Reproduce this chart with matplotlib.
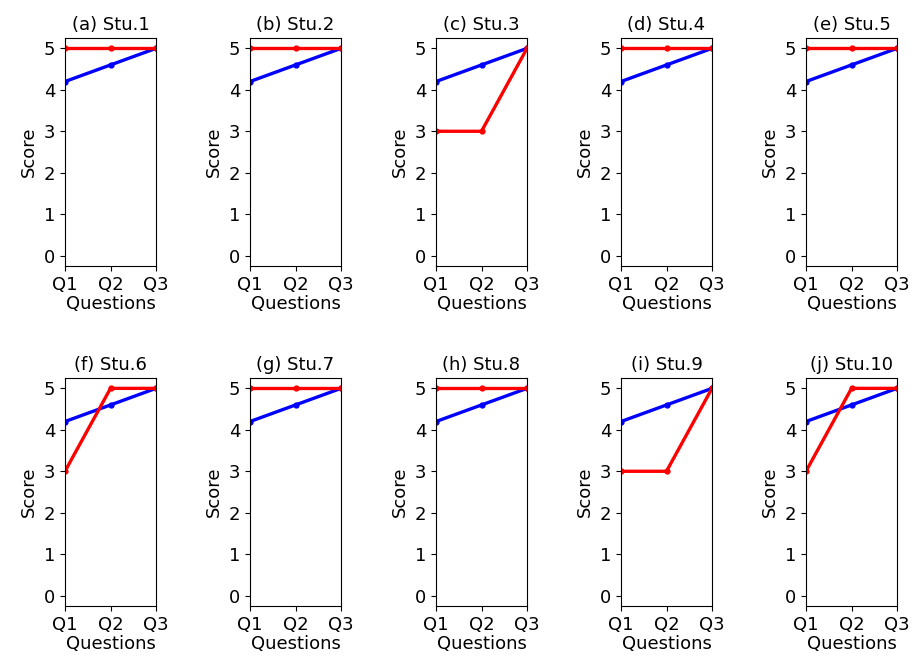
import matplotlib
matplotlib.use("Agg")
import matplotlib.pyplot as plt

questions = ["Q1", "Q2", "Q3"]
students = ["Stu.1", "Stu.2", "Stu.3", "Stu.4", "Stu.5",
            "Stu.6", "Stu.7", "Stu.8", "Stu.9", "Stu.10"]
letters = ["a", "b", "c", "d", "e", "f", "g", "h", "i", "j"]

# blue line is the same in every panel
reference_scores = [4.2, 4.6, 5.0]
# red line, one row per student
student_scores = [
    [5, 5, 5],
    [5, 5, 5],
    [3, 3, 5],
    [5, 5, 5],
    [5, 5, 5],
    [3, 5, 5],
    [5, 5, 5],
    [5, 5, 5],
    [3, 3, 5],
    [3, 5, 5],
]

plt.rcParams["font.size"] = 13

fig = plt.figure(figsize=(9.22, 6.67), dpi=100)
W, H = 922, 667
col_left = [65, 250, 436, 621, 806]
row_top = [38, 378]
ax_w, ax_h = 91, 228

for i, name in enumerate(students):
    r, c = divmod(i, 5)
    left = col_left[c] / W
    bottom = 1 - (row_top[r] + ax_h) / H
    ax = fig.add_axes([left, bottom, ax_w / W, ax_h / H])
    x = range(len(questions))
    ax.plot(x, reference_scores, color="blue", marker=".", markersize=7, linewidth=2.4)
    ax.plot(x, student_scores[i], color="red", marker=".", markersize=7, linewidth=2.4)
    ax.set_xlim(0, 2)
    ax.set_ylim(-0.25, 5.25)
    ax.set_xticks(list(x))
    ax.set_xticklabels(questions)
    ax.set_yticks(range(6))
    ax.set_xlabel("Questions", labelpad=1)
    ax.set_ylabel("Score")
    ax.set_title(f"({letters[i]}) {name}", fontsize=13)

fig.savefig("out.png", dpi=100)
